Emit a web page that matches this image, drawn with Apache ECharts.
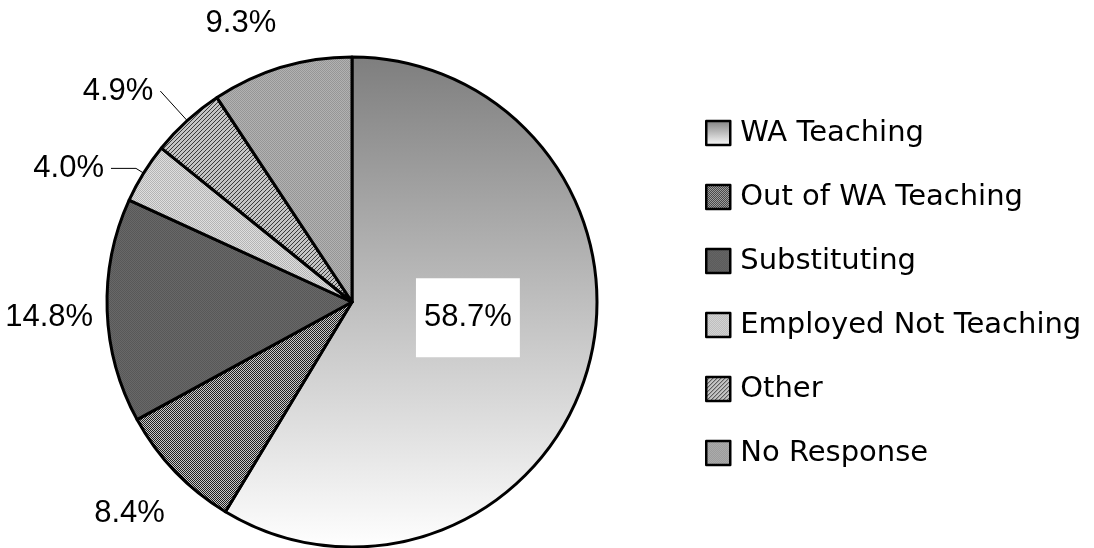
<!DOCTYPE html>
<html>
<head>
<meta charset="utf-8">
<script src="https://cdn.jsdelivr.net/npm/echarts@6/dist/echarts.min.js"></script>
<style>
  html, body { margin: 0; padding: 0; background: #fff; }
  #pie { width: 1094px; height: 548px; }
</style>
</head>
<body>
<div id="pie"></div>
<script>
const categories = [
  "WA Teaching",
  "Out of WA Teaching",
  "Substituting",
  "Employed Not Teaching",
  "Other",
  "No Response"
];
const shares = [58.7, 8.4, 14.8, 4.0, 4.9, 9.3];

// small tiled fills standing in for the print patterns
function tile(size, paint) {
  const c = document.createElement("canvas");
  c.width = size;
  c.height = size;
  paint(c.getContext("2d"));
  return { image: c, repeat: "repeat" };
}
function checker(a, b) {
  return tile(2, ctx => {
    ctx.fillStyle = b;
    ctx.fillRect(0, 0, 2, 2);
    ctx.fillStyle = a;
    ctx.fillRect(0, 0, 1, 1);
    ctx.fillRect(1, 1, 1, 1);
  });
}
const hatch = tile(4, ctx => {
  ctx.fillStyle = "#c4c4c4";
  ctx.fillRect(0, 0, 4, 4);
  ctx.fillStyle = "#3a3a3a";
  for (let i = 0; i < 4; i++) ctx.fillRect(i, 3 - i, 1, 1);
});

const fills = [
  new echarts.graphic.LinearGradient(0, 0, 0, 1, [
    { offset: 0, color: "#7e7e7e" },
    { offset: 1, color: "#ffffff" }
  ]),
  checker("#1e1e1e", "#c8c8c8"),
  checker("#585858", "#686868"),
  checker("#b4b4b4", "#dedede"),
  hatch,
  checker("#969696", "#b2b2b2")
];

// per-slice label placement (line lengths / offsets only)
const labelPlace = [
  { inside: true },
  { len: 60, len2: -40, line: false },
  { len: 2, len2: 5, line: false, shift: [0, 7] },
  { len: 9, len2: 25, line: true },
  { len: 40, len2: 0, line: true },
  { len: 46, len2: -15, line: false }
];

const data = categories.map((name, i) => {
  const p = labelPlace[i];
  const item = { name, value: shares[i], itemStyle: { color: fills[i] } };
  if (p.inside) {
    item.label = {
      position: "inside",
      backgroundColor: "#fff",
      padding: [25, 8, 23, 8],
      offset: [-5, -18]
    };
    item.labelLine = { show: false };
  } else {
    item.label = { position: "outside", offset: p.shift || [0, 0] };
    item.labelLine = {
      show: p.line,
      length: p.len,
      length2: p.len2,
      lineStyle: { color: "#000", width: 1 }
    };
  }
  return item;
});

const chart = echarts.init(document.getElementById("pie"));
chart.setOption({
  animation: false,
  legend: {
    orient: "vertical",
    left: 705,
    top: 118,
    padding: 0,
    itemWidth: 24,
    itemHeight: 24,
    itemGap: 34,
    icon: "rect",
    itemStyle: { borderColor: "#000", borderWidth: 2.5 },
    textStyle: {
      fontFamily: "DejaVu Sans",
      fontSize: 29,
      lineHeight: 30,
      color: "#000",
      padding: [0, 0, 0, 5]
    },
    data: categories
  },
  series: [
    {
      type: "pie",
      center: [352, 302],
      radius: 245,
      startAngle: 90,
      clockwise: true,
      avoidLabelOverlap: false,
      silent: true,
      itemStyle: { borderColor: "#000", borderWidth: 3 },
      label: {
        formatter: p => p.value.toFixed(1) + "%",
        fontFamily: "Liberation Sans",
        fontSize: 31,
        color: "#000",
        distanceToLabelLine: 7
      },
      data: data
    }
  ]
});
</script>
</body>
</html>
